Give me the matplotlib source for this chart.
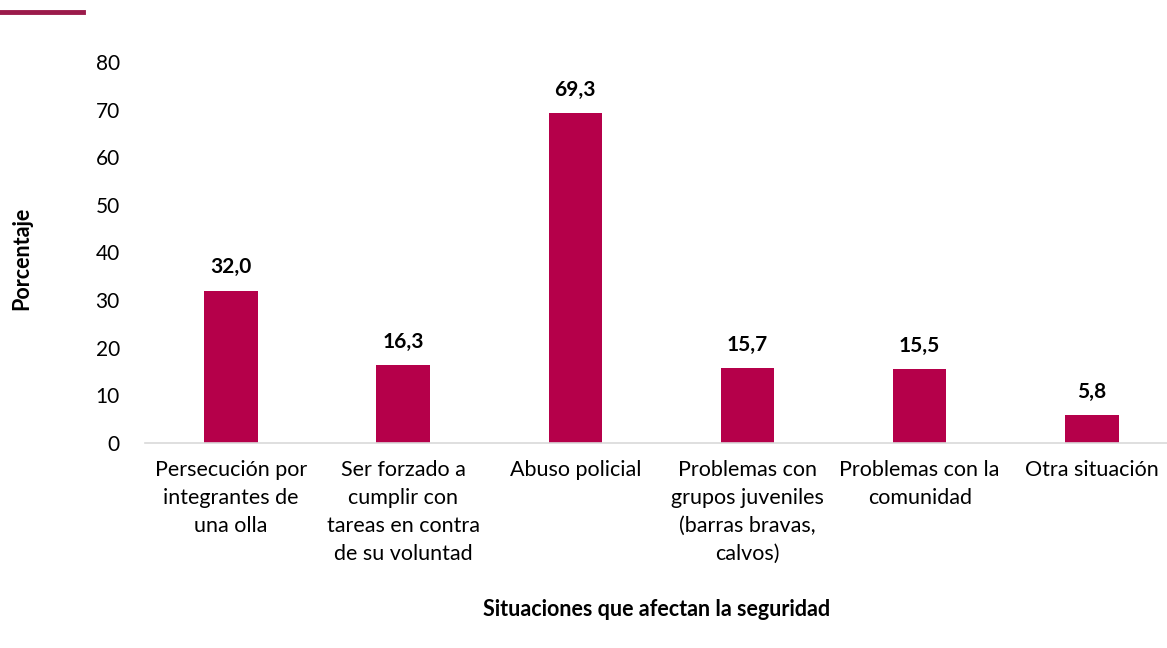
import matplotlib.pyplot as plt
import matplotlib.lines as mlines

plt.rcParams['font.family'] = ['Lato', 'DejaVu Sans']

categorias = [
    "Persecución por\nintegrantes de\nuna olla",
    "Ser forzado a\ncumplir con\ntareas en contra\nde su voluntad",
    "Abuso policial",
    "Problemas con\ngrupos juveniles\n(barras bravas,\ncalvos)",
    "Problemas con la\ncomunidad",
    "Otra situación",
]
valores = [32.0, 16.3, 69.3, 15.7, 15.5, 5.8]
yticks = [0, 10, 20, 30, 40, 50, 60, 70, 80]

color_barra = "#B5004A"

fig = plt.figure(figsize=(11.67, 6.48), dpi=100)
ax = fig.add_axes([0.1241, 0.3164, 0.8853, 0.5879])

x = range(len(categorias))
ax.bar(x, valores, width=0.31, color=color_barra, zorder=2)

for xi, v in zip(x, valores):
    ax.text(xi, v + 2.8, f"{v:.1f}".replace('.', ','), ha='center', va='bottom',
            fontsize=15, fontweight='bold', color='black')

ax.set_xlim(-0.5, len(categorias) - 0.5)
ax.set_ylim(0, 80)
ax.set_yticks(yticks)
ax.set_yticklabels([str(t) for t in yticks], fontsize=15)
ax.set_xticks(list(x))
ax.set_xticklabels(categorias, fontsize=15.5, linespacing=1.5)
ax.tick_params(axis='both', length=0, colors='black')
ax.tick_params(axis='x', pad=12)
ax.tick_params(axis='y', pad=18)

for s in ['top', 'right', 'left']:
    ax.spines[s].set_visible(False)
ax.spines['bottom'].set_color('#D9D9D9')
ax.spines['bottom'].set_linewidth(1.2)

fig.text(0.019, 0.602, "Porcentaje", rotation=90, ha='center', va='center',
         fontsize=15.5, fontweight='bold')
fig.text(0.563, 0.059, "Situaciones que afectan la seguridad", ha='center', va='center',
         fontsize=15.5, fontweight='bold')

fig.add_artist(mlines.Line2D([0, 83 / 1167], [1 - 12 / 648, 1 - 12 / 648],
                             color='#9B1B4B', linewidth=3.5, transform=fig.transFigure))

fig.savefig("out.png", dpi=100)
